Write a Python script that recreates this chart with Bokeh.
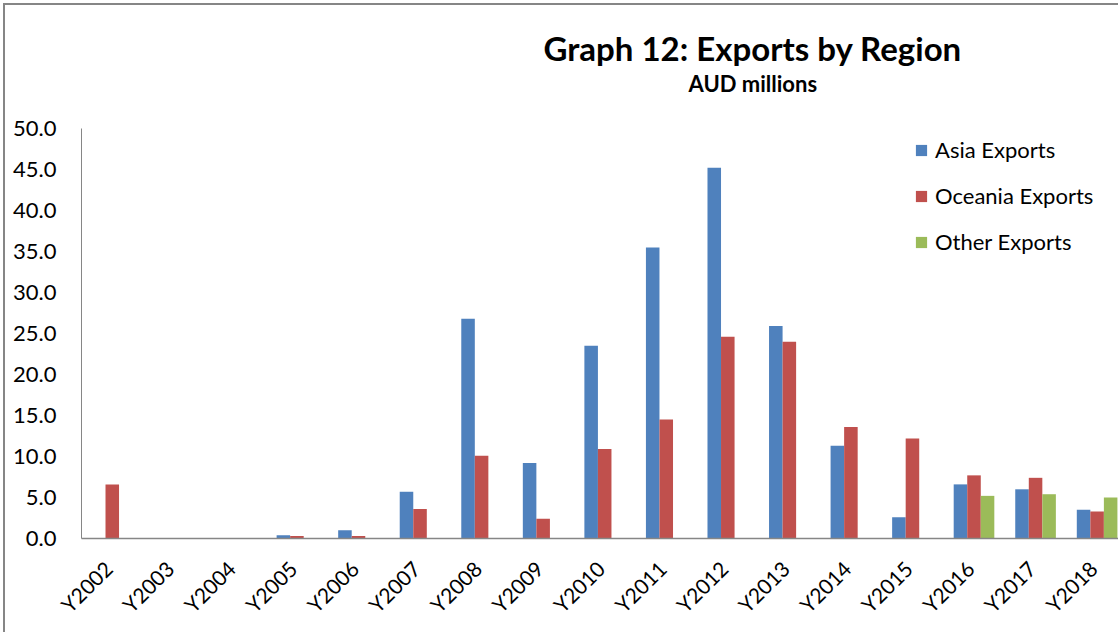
import math
from bokeh.plotting import figure
from bokeh.models import (ColumnDataSource, Range1d, FixedTicker, PrintfTickFormatter,
                          Legend, LegendItem, Title)
from bokeh.transform import dodge
from bokeh.embed import file_html
from bokeh.resources import INLINE

# Export values by year, AUD millions
years = ["Y2002", "Y2003", "Y2004", "Y2005", "Y2006", "Y2007", "Y2008", "Y2009", "Y2010",
         "Y2011", "Y2012", "Y2013", "Y2014", "Y2015", "Y2016", "Y2017", "Y2018"]
asia = [0.0, 0.0, 0.0, 0.4, 1.0, 5.7, 26.8, 9.2, 23.5, 35.5, 45.2, 25.9, 11.3, 2.6, 6.6, 6.0, 3.5]
oceania = [6.6, 0.0, 0.0, 0.3, 0.3, 3.6, 10.1, 2.4, 10.9, 14.5, 24.6, 24.0, 13.6, 12.2, 7.7, 7.4, 3.3]
other = [0.0, 0.0, 0.0, 0.0, 0.0, 0.0, 0.0, 0.0, 0.0, 0.0, 0.0, 0.0, 0.0, 0.0, 5.2, 5.4, 5.0]
y_ticks = [0, 5, 10, 15, 20, 25, 30, 35, 40, 45, 50]

FONT = "Lato"
BLUE, RED, GREEN = "#4F81BD", "#C0504D", "#9BBB59"
AXIS_GREY = "#868686"

centers = [i + 0.5 for i in range(len(years))]
src = ColumnDataSource(dict(x=centers, asia=asia, oceania=oceania, other=other))

p = figure(width=1115, height=629, output_backend="svg", toolbar_location=None,
           x_range=Range1d(0, 16.88), y_range=Range1d(0, 50),
           min_border_left=76, min_border_right=0, min_border_top=123, min_border_bottom=96)
p.background_fill_color = "white"
p.border_fill_color = "white"
p.outline_line_color = None
p.grid.visible = False
# chart frame: grey rule along the left and top edges
p.styles = {"margin-left": "3px", "margin-top": "3px",
            "border-left": f"2px solid {AXIS_GREY}", "border-top": f"2px solid {AXIS_GREY}"}

bw = 0.22
r_asia = p.vbar(x=dodge("x", -bw, range=p.x_range), top="asia", width=bw, source=src,
                fill_color=BLUE, line_color=None)
r_oce = p.vbar(x=dodge("x", 0.0, range=p.x_range), top="oceania", width=bw, source=src,
               fill_color=RED, line_color=None)
r_oth = p.vbar(x=dodge("x", bw, range=p.x_range), top="other", width=bw, source=src,
               fill_color=GREEN, line_color=None)

# x axis: year labels rotated, anchored a touch left of each group's centre
label_pos = [c - 0.065 for c in centers]
xa = p.xaxis[0]
xa.ticker = FixedTicker(ticks=label_pos)
xa.major_label_overrides = {c: y for c, y in zip(label_pos, years)}
xa.major_label_orientation = math.pi / 4
xa.major_label_text_font = FONT
xa.major_label_text_font_size = "21px"
xa.major_label_text_color = "#000000"
xa.major_label_standoff = 20
xa.major_tick_line_color = None
xa.minor_tick_line_color = None
xa.axis_line_color = AXIS_GREY
xa.axis_line_width = 1.5

ya = p.yaxis[0]
ya.ticker = FixedTicker(ticks=y_ticks)
ya.formatter = PrintfTickFormatter(format="%.1f")
ya.major_label_text_font = FONT
ya.major_label_text_font_size = "22px"
ya.major_label_text_color = "#000000"
ya.major_label_standoff = 19
ya.major_tick_line_color = None
ya.minor_tick_line_color = None
ya.axis_line_color = AXIS_GREY
ya.axis_line_width = 1

legend = Legend(items=[LegendItem(label="Asia Exports", renderers=[r_asia]),
                       LegendItem(label="Oceania Exports", renderers=[r_oce]),
                       LegendItem(label="Other Exports", renderers=[r_oth])],
                location=(833, 283), orientation="vertical",
                label_text_font=FONT, label_text_font_size="22px", label_text_color="#000000",
                glyph_width=14, glyph_height=14, label_height=27, label_standoff=7,
                spacing=19, padding=0, margin=0,
                border_line_color=None, background_fill_alpha=0)
p.add_layout(legend, "center")

# headings: empty spacer next to the frame, then subtitle, then main title
p.title = None
p.add_layout(Title(text=" ", text_font=FONT, text_font_size="10px", standoff=18), "above")
p.add_layout(Title(text="AUD millions", align="left", offset=607, text_font=FONT,
                   text_font_style="bold", text_font_size="22px", text_color="#000000",
                   standoff=0), "above")
p.add_layout(Title(text="Graph 12: Exports by Region", align="left", offset=462,
                   text_font=FONT, text_font_style="bold", text_font_size="33px",
                   text_color="#000000", standoff=0), "above")

open("out.html", "w").write(file_html(p, INLINE))
